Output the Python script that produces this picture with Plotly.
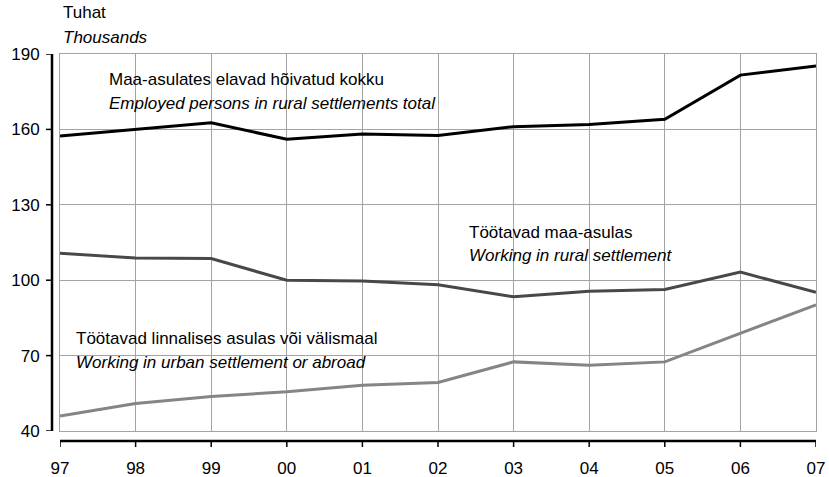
import plotly.graph_objects as go

years = ["97", "98", "99", "00", "01", "02", "03", "04", "05", "06", "07"]
total = [157.4, 160.0, 162.6, 156.1, 158.2, 157.6, 161.1, 161.9, 164.0, 181.6, 185.2]
rural = [110.7, 108.8, 108.6, 100.0, 99.7, 98.2, 93.4, 95.6, 96.3, 103.2, 95.2]
urban = [46.0, 50.9, 53.7, 55.6, 58.2, 59.3, 67.5, 66.2, 67.5, 78.7, 90.2]
yticks = [40, 70, 100, 130, 160, 190]

W, H = 829, 477
L, R, T, B = 60, 13, 54, 46
PW, PH = W - L - R, H - T - B

def px(x):
    return (x - L) / PW

def py(y):
    return (H - B - y) / PH

xs = list(range(len(years)))
FONT = "Liberation Sans, Arial, sans-serif"
FS = 17

fig = go.Figure()
fig.add_trace(go.Scatter(x=xs, y=urban, mode="lines", line=dict(color="#858585", width=3)))
fig.add_trace(go.Scatter(x=xs, y=rural, mode="lines", line=dict(color="#484848", width=3)))
fig.add_trace(go.Scatter(x=xs, y=total, mode="lines", line=dict(color="#000000", width=3)))

shapes = []
# white backgrounds behind labels
for (x0, x1, y0, y1) in [(100, 478, 67, 121), (460, 690, 217, 272), (64, 430, 325, 373)]:
    shapes.append(dict(type="rect", xref="paper", yref="paper", x0=px(x0), x1=px(x1),
                       y0=py(y1), y1=py(y0), fillcolor="white", line=dict(width=0), layer="between"))
# detached y axis line and ticks
shapes.append(dict(type="line", xref="paper", yref="paper", x0=px(52), x1=px(52), y0=0, y1=1,
                   line=dict(color="black", width=2.5)))
for v in yticks:
    shapes.append(dict(type="line", xref="paper", yref="y", x0=px(46), x1=px(52), y0=v, y1=v,
                       line=dict(color="black", width=1.5)))
# detached x axis line and ticks
shapes.append(dict(type="line", xref="paper", yref="paper", x0=0, x1=1, y0=py(441), y1=py(441),
                   line=dict(color="black", width=2.5)))
for x in xs:
    shapes.append(dict(type="line", xref="x", yref="paper", x0=x, x1=x, y0=py(441), y1=py(447),
                       line=dict(color="black", width=1.5)))

def ann(text, x, y, italic=False):
    return dict(text=("<i>%s</i>" % text) if italic else text, xref="paper", yref="paper",
                x=px(x), y=py(y), xanchor="left", yanchor="middle", showarrow=False,
                font=dict(family=FONT, size=FS, color="black"))

annotations = [
    ann("Tuhat", 61, 13),
    ann("Thousands", 61, 38, True),
    ann("Maa-asulates elavad hõivatud kokku", 107, 79),
    ann("Employed persons in rural settlements total", 107, 104, True),
    ann("Töötavad maa-asulas", 467, 232),
    ann("Working in rural settlement", 467, 255, True),
    ann("Töötavad linnalises asulas või välismaal", 74, 338),
    ann("Working in urban settlement or abroad", 74, 362, True),
]

fig.update_layout(
    width=W, height=H,
    margin=dict(l=L, r=R, t=T, b=B, autoexpand=False),
    paper_bgcolor="white", plot_bgcolor="white",
    showlegend=False,
    shapes=shapes, annotations=annotations,
    font=dict(family=FONT, size=FS, color="black"),
    xaxis=dict(range=[xs[0], xs[-1]], tickvals=xs, ticktext=years, showgrid=True,
               gridcolor="#a3a3a3", gridwidth=1, showline=True, mirror=True, linecolor="#a3a3a3",
               linewidth=1, ticks="", zeroline=False, ticklabelstandoff=22, automargin=False,
               tickfont=dict(family=FONT, size=FS, color="black")),
    yaxis=dict(range=[yticks[0], yticks[-1]], tickvals=yticks, showgrid=True,
               gridcolor="#a3a3a3", gridwidth=1, showline=True, mirror=True, linecolor="#a3a3a3",
               linewidth=1, ticks="", zeroline=False, ticklabelstandoff=16, automargin=False,
               tickfont=dict(family=FONT, size=FS, color="black")),
)

fig.write_html("out.html", config={"displayModeBar": False},
               post_script="document.body.style.margin='0';document.body.style.padding='0';")
